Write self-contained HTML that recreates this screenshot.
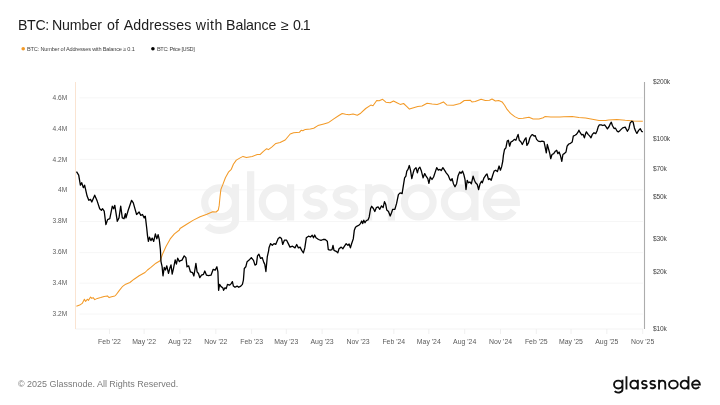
<!DOCTYPE html>
<html><head><meta charset="utf-8"><title>BTC: Number of Addresses with Balance ≥ 0.1</title>
<style>
html,body{margin:0;padding:0;background:#fff;}
body{width:720px;height:405px;position:relative;overflow:hidden;font-family:"Liberation Sans",sans-serif;}
.t{position:absolute;white-space:nowrap;line-height:1;}
.title{top:17.6px;font-size:14.2px;color:#1c1c1c;letter-spacing:-0.05px;}
.lg{top:47.0px;font-size:5.6px;color:#444;}
.yl{font-size:6.6px;color:#5e5e5e;text-align:right;width:40px;left:27.2px;}
.yr{font-size:6.6px;color:#444;left:653.0px;letter-spacing:-0.2px;}
.xl{font-size:6.9px;color:#5a5a5a;width:40px;text-align:center;top:338.6px;}
.foot{left:18px;top:379.5px;font-size:8.98px;color:#7a7a7a;}
</style></head><body>
<svg width="720" height="405" viewBox="0 0 720 405" style="position:absolute;left:0;top:0">
<line x1="79.5" x2="643" y1="97.9" y2="97.9" stroke="#f6f6f6" stroke-width="1"/>
<line x1="79.5" x2="643" y1="128.9" y2="128.9" stroke="#f6f6f6" stroke-width="1"/>
<line x1="79.5" x2="643" y1="159.4" y2="159.4" stroke="#f6f6f6" stroke-width="1"/>
<line x1="79.5" x2="643" y1="189.9" y2="189.9" stroke="#f6f6f6" stroke-width="1"/>
<line x1="79.5" x2="643" y1="221.5" y2="221.5" stroke="#f6f6f6" stroke-width="1"/>
<line x1="79.5" x2="643" y1="252.7" y2="252.7" stroke="#f6f6f6" stroke-width="1"/>
<line x1="79.5" x2="643" y1="283.2" y2="283.2" stroke="#f6f6f6" stroke-width="1"/>
<line x1="79.5" x2="643" y1="314.0" y2="314.0" stroke="#f6f6f6" stroke-width="1"/>
<line x1="75.5" x2="643" y1="329.0" y2="329.0" stroke="#f0f0f0" stroke-width="0.8"/>
<line x1="109.5" x2="109.5" y1="329.0" y2="334.0" stroke="#ececec" stroke-width="0.8"/>
<line x1="144.1" x2="144.1" y1="329.0" y2="334.0" stroke="#ececec" stroke-width="0.8"/>
<line x1="179.9" x2="179.9" y1="329.0" y2="334.0" stroke="#ececec" stroke-width="0.8"/>
<line x1="215.8" x2="215.8" y1="329.0" y2="334.0" stroke="#ececec" stroke-width="0.8"/>
<line x1="251.6" x2="251.6" y1="329.0" y2="334.0" stroke="#ececec" stroke-width="0.8"/>
<line x1="286.3" x2="286.3" y1="329.0" y2="334.0" stroke="#ececec" stroke-width="0.8"/>
<line x1="322.1" x2="322.1" y1="329.0" y2="334.0" stroke="#ececec" stroke-width="0.8"/>
<line x1="358.0" x2="358.0" y1="329.0" y2="334.0" stroke="#ececec" stroke-width="0.8"/>
<line x1="393.8" x2="393.8" y1="329.0" y2="334.0" stroke="#ececec" stroke-width="0.8"/>
<line x1="428.8" x2="428.8" y1="329.0" y2="334.0" stroke="#ececec" stroke-width="0.8"/>
<line x1="464.7" x2="464.7" y1="329.0" y2="334.0" stroke="#ececec" stroke-width="0.8"/>
<line x1="500.5" x2="500.5" y1="329.0" y2="334.0" stroke="#ececec" stroke-width="0.8"/>
<line x1="536.3" x2="536.3" y1="329.0" y2="334.0" stroke="#ececec" stroke-width="0.8"/>
<line x1="571.0" x2="571.0" y1="329.0" y2="334.0" stroke="#ececec" stroke-width="0.8"/>
<line x1="606.8" x2="606.8" y1="329.0" y2="334.0" stroke="#ececec" stroke-width="0.8"/>
<line x1="642.7" x2="642.7" y1="329.0" y2="334.0" stroke="#ececec" stroke-width="0.8"/>
<g transform="translate(0,220.5)" fill="none" stroke="#f0f0f0" stroke-width="7.2"><path d="M204.700,-18.150a15.400,14.550 0 1 0 30.800,0a15.400,14.550 0 1 0 -30.800,0z M235.500,-36.300L235.500,0.1A15.400,9.700 0 0 1 207.040,5.240 M250.650,-49.200V0 M262.300,-18.150a14.150,14.550 0 1 0 28.300,0a14.150,14.550 0 1 0 -28.300,0z M290.600,-36.300V0 M324.144,-28.384A9.900,7.275 0 0 0 305.992,-25.425A9.108,7.275 0 0 0 315.100,-18.150A9.108,7.275 0 0 1 324.208,-10.875A9.900,7.275 0 0 1 306.056,-7.916 M354.722,-28.384A10.150,7.275 0 0 0 336.112,-25.425A9.338,7.275 0 0 0 345.450,-18.150A9.338,7.275 0 0 1 354.788,-10.875A10.150,7.275 0 0 1 336.178,-7.916 M368.600,0V-36.300 M368.600,-21.300A11.400,11.400 0 0 1 391.400,-21.300V0 M404.400,-18.150a14.350,14.550 0 1 0 28.700,0a14.350,14.550 0 1 0 -28.700,0z M444.400,-18.150a15.250,14.550 0 1 0 30.500,0a15.250,14.550 0 1 0 -30.500,0z M474.900,-49.200V0 M486.500,-18.150H516.300A14.900,14.550 0 1 0 513.605,-9.804"/></g>
<line x1="75.5" x2="75.5" y1="82" y2="329.0" stroke="#fae4d2" stroke-width="1"/>
<line x1="644.5" x2="644.5" y1="82" y2="329.0" stroke="#acacac" stroke-width="1.1"/>
<polyline fill="none" stroke="#f39a27" stroke-width="1.05" stroke-linejoin="round" points="76.4,306.3 79.7,305.1 82.2,303.4 84.4,299.2 85.6,301.4 87.3,299.2 88.4,300.4 90.6,297.0 91.8,298.4 93.1,297.6 94.8,299.6 97.3,298.4 100.7,297.6 104.1,296.4 107.4,295.9 109.1,297.6 111.6,296.7 114.8,296.0 116.5,294.3 119.0,290.9 122.3,286.7 125.7,284.2 129.9,282.5 134.1,279.2 139.1,275.8 145.0,272.5 147.5,270.0 150.9,267.4 155.9,263.2 160.1,260.7 162.6,254.0 166.0,246.5 170.2,238.9 174.4,233.9 179.4,230.0 180.0,228.5 186.7,224.3 193.4,220.1 200.1,216.7 206.9,214.2 212.7,211.7 216.1,212.0 218.3,210.0 219.2,205.4 220.0,197.0 220.9,189.4 222.9,184.4 225.4,177.7 228.7,171.8 231.3,169.3 233.4,164.3 236.3,160.1 239.7,158.1 243.0,156.4 246.4,157.6 252.2,156.4 257.3,154.5 260.0,154.6 263.4,151.3 266.7,148.7 268.4,149.6 271.7,147.1 275.9,143.4 280.1,142.4 285.2,140.0 287.7,137.0 290.2,134.0 293.6,132.8 299.4,132.3 301.1,130.3 302.8,130.8 305.3,129.4 310.3,128.9 313.7,128.3 317.9,125.6 323.8,123.9 328.8,122.4 333.8,118.9 338.9,115.5 342.2,113.5 345.6,114.3 349.0,114.8 353.1,114.0 357.3,115.2 360.7,113.2 365.7,108.5 370.8,105.1 373.0,105.7 376.7,100.5 379.2,100.7 382.6,99.3 385.9,102.2 390.1,102.7 393.5,101.0 396.9,102.7 400.2,104.4 403.6,103.5 406.9,106.6 409.4,109.1 413.6,107.7 417.8,106.6 422.0,106.0 427.1,103.2 432.1,104.0 437.1,104.4 440.0,103.5 443.4,101.9 446.7,104.9 453.4,105.2 460.1,103.5 464.3,100.5 470.2,100.2 471.9,101.9 475.2,101.5 481.1,99.3 485.3,100.5 489.5,100.2 492.0,99.0 495.4,101.0 498.7,100.5 502.1,101.9 504.6,105.2 507.1,109.4 510.5,113.3 514.7,116.6 518.9,118.6 523.1,118.3 529.0,117.3 533.1,119.0 539.0,119.0 543.2,117.8 544.9,116.6 550.8,117.0 560.0,117.0 563.8,116.8 572.2,116.4 578.9,117.6 585.6,118.1 592.3,119.3 599.0,120.5 605.7,120.5 608.4,120.0 616.8,119.5 625.2,120.3 633.6,120.9 642.8,121.2"/>
<polyline fill="none" stroke="#000" stroke-width="1.3" stroke-linejoin="round" points="76.5,171.7 78.7,175.1 80.4,185.2 81.7,182.7 83.4,187.7 84.6,185.2 87.1,196.1 88.8,200.3 90.5,199.4 91.8,202.0 94.7,195.2 97.2,201.1 99.7,208.7 101.4,210.3 102.5,208.7 104.2,211.2 105.9,224.6 107.6,219.6 109.8,218.7 112.3,206.2 113.6,208.7 114.8,205.3 117.3,221.3 119.0,217.9 120.7,206.2 122.3,217.9 124.0,218.7 125.4,213.7 126.0,217.9 128.2,210.3 131.6,200.3 133.3,202.8 134.9,208.7 136.6,214.5 139.1,212.0 140.8,215.4 142.5,214.5 144.2,217.9 145.3,216.2 146.7,228.0 147.5,235.6 148.4,241.4 149.5,237.2 150.9,240.6 152.2,238.1 153.7,241.4 155.4,233.9 156.8,238.9 158.1,234.7 159.3,239.7 160.4,249.8 161.0,261.6 162.1,266.6 163.0,275.8 164.3,267.4 165.5,270.0 166.8,265.8 168.5,273.3 169.8,268.3 171.0,264.9 172.2,274.2 173.5,268.3 175.2,259.9 176.4,264.1 177.7,258.2 179.4,261.6 180.0,260.9 182.0,260.1 184.2,255.9 185.9,257.6 187.0,266.8 188.7,265.9 190.4,271.8 192.6,272.7 193.9,276.0 195.9,263.4 197.1,271.8 198.5,273.5 199.8,277.7 201.5,275.2 203.5,274.3 204.8,271.0 206.5,275.2 208.5,275.7 211.0,275.2 213.2,269.3 215.2,270.1 216.9,266.8 217.9,271.8 218.6,290.3 219.6,284.4 221.1,286.6 222.8,287.8 223.6,290.3 225.0,287.8 226.2,288.6 227.5,284.4 229.5,285.2 231.2,283.6 232.4,281.6 233.4,286.1 235.0,287.3 237.1,286.1 238.7,287.3 240.8,286.1 242.4,284.4 243.4,280.2 244.3,268.5 245.8,266.8 247.1,261.7 249.1,260.1 251.3,257.6 253.5,260.4 255.0,265.1 256.4,264.3 257.5,255.9 258.9,254.2 260.6,258.4 262.2,257.6 263.9,262.6 264.8,264.3 265.9,271.5 267.3,256.7 268.6,250.8 269.0,247.8 270.6,243.6 272.3,245.3 274.0,243.6 275.7,244.4 278.2,238.6 279.9,237.2 281.5,238.6 282.7,244.4 284.4,240.2 286.6,240.2 288.3,243.6 290.0,247.1 292.5,246.2 295.0,247.9 296.7,244.5 298.4,247.9 300.1,247.1 301.7,250.4 303.4,252.9 304.8,247.9 306.3,237.8 308.5,236.2 310.5,237.0 312.2,235.3 313.5,237.8 314.7,235.0 316.0,237.8 318.5,239.5 321.0,240.3 323.1,239.5 325.2,239.5 327.3,241.2 328.3,249.6 330.3,250.1 332.0,249.6 333.0,245.4 334.0,250.4 336.2,251.3 337.8,252.9 339.0,248.7 341.2,247.1 342.9,248.7 344.5,246.2 346.2,243.7 347.9,245.4 349.1,244.0 350.4,247.9 351.6,243.7 353.3,238.7 354.3,230.3 355.5,227.3 357.1,226.1 358.8,225.2 360.5,223.6 361.7,221.0 362.7,223.6 363.8,220.2 365.0,222.7 366.4,220.5 368.0,219.9 369.2,216.9 370.6,208.5 371.7,206.3 373.4,208.5 374.8,211.5 376.4,207.6 378.1,206.8 379.8,209.3 381.5,205.9 383.1,207.6 384.5,201.7 385.7,204.3 386.8,210.1 388.5,211.5 390.2,216.0 391.5,212.7 392.7,209.3 394.9,209.3 396.6,203.4 398.4,194.6 400.1,192.9 402.1,193.7 403.4,185.3 404.6,177.8 405.9,176.1 406.8,171.1 408.0,169.4 409.3,165.5 410.5,170.2 411.8,178.6 413.2,172.8 414.3,169.4 416.0,167.7 417.4,172.8 418.5,168.6 419.9,167.2 421.4,171.1 423.1,177.8 424.7,173.6 426.1,176.1 427.8,178.6 428.9,183.3 430.3,177.0 432.0,179.5 433.6,177.0 435.3,171.9 436.7,167.7 438.3,170.2 440.0,169.4 441.2,170.6 442.9,167.7 444.5,170.2 446.2,172.8 448.2,175.3 449.9,179.5 450.9,180.7 452.1,178.6 453.4,183.7 455.0,186.7 456.6,183.7 458.0,176.1 459.7,171.9 461.0,173.3 462.5,171.1 463.8,174.4 465.0,179.5 466.0,189.5 467.2,180.3 468.5,182.8 469.9,182.0 471.4,183.7 473.1,176.1 474.4,180.3 475.6,182.8 477.3,184.5 478.6,189.5 480.1,183.7 481.5,181.2 482.3,182.8 484.0,177.8 485.7,175.3 487.0,173.9 488.5,179.5 489.9,178.6 491.2,180.3 492.7,175.3 494.1,171.1 495.7,170.2 497.4,171.6 499.1,166.0 500.4,170.2 501.6,166.9 502.8,161.0 503.4,155.4 504.5,149.5 505.9,147.8 507.2,141.1 508.4,140.3 509.6,146.2 510.9,142.0 512.6,141.1 514.3,139.4 515.9,140.3 517.1,136.9 518.1,134.4 519.3,140.3 521.0,142.0 522.3,144.5 523.5,142.0 524.7,139.4 526.0,137.8 526.9,145.3 528.5,142.8 529.9,137.8 531.4,135.2 532.7,134.7 534.1,136.1 535.2,135.6 536.6,139.4 538.3,141.1 540.3,141.6 542.0,141.1 544.0,141.6 545.3,147.8 546.3,152.9 547.3,144.5 548.7,149.5 549.8,153.7 550.7,158.7 552.0,154.5 553.7,153.7 555.4,151.2 556.7,150.3 557.9,153.7 559.1,152.0 560.4,155.4 561.8,161.3 562.9,154.5 564.6,153.4 566.0,152.0 567.1,146.2 568.8,144.0 570.5,143.3 572.2,142.0 573.3,136.1 575.0,135.2 576.4,134.4 577.7,132.7 578.9,130.2 580.2,132.7 581.7,134.9 583.1,134.4 584.4,137.8 585.6,133.6 586.4,131.9 588.1,134.4 589.8,136.1 591.0,137.8 592.3,134.4 594.0,132.7 595.7,133.6 597.0,131.0 598.2,126.9 599.4,124.8 601.2,124.8 602.9,125.5 604.6,124.8 606.1,126.9 607.4,128.9 609.1,126.5 610.4,123.5 611.3,122.2 612.4,125.5 614.1,128.5 615.5,128.2 617.0,131.0 618.3,131.9 620.1,130.4 622.7,127.9 625.2,127.1 627.4,131.3 628.9,128.7 630.2,122.9 631.9,121.2 633.1,122.0 634.4,127.9 635.7,131.3 636.9,133.4 638.6,130.4 640.3,128.7 641.6,131.3 642.8,131.8"/>
<g transform="translate(613.1,389.45)" fill="none" stroke="#111" stroke-width="1.85"><path d="M0.925,-4.900a4.225,3.975 0 1 0 8.450,0a4.225,3.975 0 1 0 -8.450,0z M9.375,-9.800L9.375,0.1A4.225,3.075 0 0 1 1.567,1.730 M13.375,-13.200V0 M17.225,-4.900a3.775,3.975 0 1 0 7.550,0a3.775,3.975 0 1 0 -7.550,0z M24.775,-9.800V0 M33.744,-7.696A2.675,1.987 0 0 0 28.839,-6.888A2.461,1.987 0 0 0 31.300,-4.900A2.461,1.988 0 0 1 33.761,-2.913A2.675,1.988 0 0 1 28.856,-2.104 M42.139,-7.696A2.725,1.987 0 0 0 37.143,-6.888A2.507,1.987 0 0 0 39.650,-4.900A2.507,1.988 0 0 1 42.157,-2.913A2.725,1.988 0 0 1 37.161,-2.104 M45.925,0V-9.800 M45.925,-5.750A3.125,3.125 0 0 1 52.175,-5.750V0 M55.925,-4.900a4.375,3.975 0 1 0 8.750,0a4.375,3.975 0 1 0 -8.750,0z M67.525,-4.900a3.925,3.975 0 1 0 7.850,0a3.925,3.975 0 1 0 -7.850,0z M75.375,-13.200V0 M78.925,-4.900H86.775A3.925,3.975 0 1 0 86.065,-2.620"/></g>
<circle cx="23.2" cy="48.8" r="1.8" fill="#f39a27"/><circle cx="152.9" cy="48.8" r="1.8" fill="#000"/>
</svg>
<div id="txt" style="position:absolute;left:0;top:0;width:720px;height:405px;will-change:transform">
<div class="t title" style="left:18.0px;letter-spacing:-0.35px">BTC:</div>
<div class="t title" style="left:51.9px;letter-spacing:-0.085px">Number</div>
<div class="t title" style="left:107.0px;letter-spacing:0.2px">of</div>
<div class="t title" style="left:123.7px;letter-spacing:0.075px">Addresses</div>
<div class="t title" style="left:195.7px;letter-spacing:0.5px">with</div>
<div class="t title" style="left:226.1px;letter-spacing:-0.16px">Balance</div>
<div class="t title" style="left:281.0px;letter-spacing:0px">≥</div>
<div class="t title" style="left:293.0px;letter-spacing:-1.0px">0.1</div>
<div class="t lg" style="left:27px;letter-spacing:-0.18px">BTC: Number of Addresses with Balance ≥ 0.1</div>
<div class="t lg" style="left:157px;letter-spacing:-0.38px">BTC: Price [USD]</div>
<div class="t yl" style="top:95px">4.6M</div>
<div class="t yl" style="top:126px">4.4M</div>
<div class="t yl" style="top:157px">4.2M</div>
<div class="t yl" style="top:187px">4M</div>
<div class="t yl" style="top:218px">3.8M</div>
<div class="t yl" style="top:249px">3.6M</div>
<div class="t yl" style="top:280px">3.4M</div>
<div class="t yl" style="top:311px">3.2M</div>
<div class="t yr" style="top:79px">$200k</div>
<div class="t yr" style="top:136px">$100k</div>
<div class="t yr" style="top:166px">$70k</div>
<div class="t yr" style="top:194px">$50k</div>
<div class="t yr" style="top:236px">$30k</div>
<div class="t yr" style="top:269px">$20k</div>
<div class="t yr" style="top:326px">$10k</div>
<div class="t xl" style="left:89.5px">Feb '22</div>
<div class="t xl" style="left:124.1px">May '22</div>
<div class="t xl" style="left:159.9px">Aug '22</div>
<div class="t xl" style="left:195.8px">Nov '22</div>
<div class="t xl" style="left:231.6px">Feb '23</div>
<div class="t xl" style="left:266.3px">May '23</div>
<div class="t xl" style="left:302.1px">Aug '23</div>
<div class="t xl" style="left:338.0px">Nov '23</div>
<div class="t xl" style="left:373.8px">Feb '24</div>
<div class="t xl" style="left:408.8px">May '24</div>
<div class="t xl" style="left:444.7px">Aug '24</div>
<div class="t xl" style="left:480.5px">Nov '24</div>
<div class="t xl" style="left:516.3px">Feb '25</div>
<div class="t xl" style="left:551.0px">May '25</div>
<div class="t xl" style="left:586.8px">Aug '25</div>
<div class="t xl" style="left:622.7px">Nov '25</div>
<div class="t foot">© 2025 Glassnode. All Rights Reserved.</div>
</div>
</body></html>
